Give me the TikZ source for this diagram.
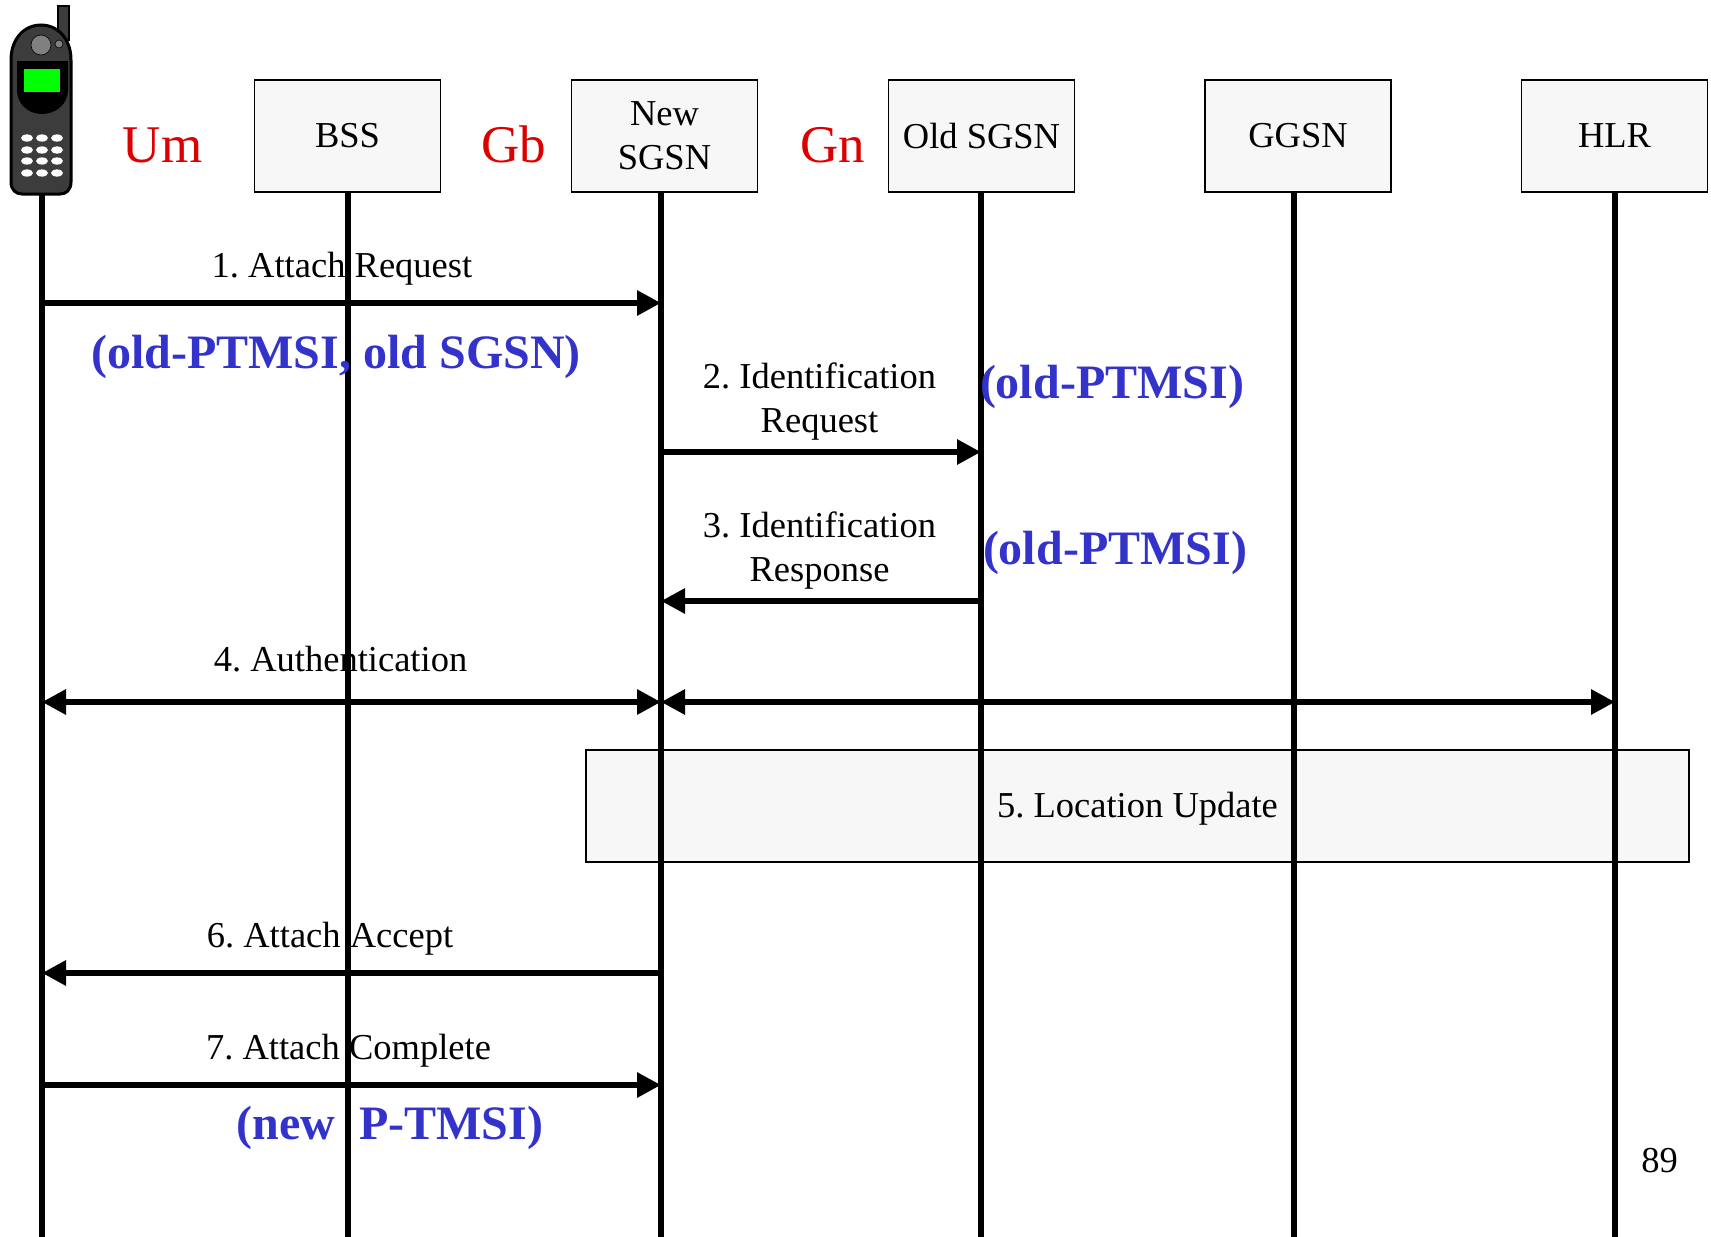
\documentclass[tikz,border=0pt]{standalone}
\usepackage{fontspec}
\setmainfont{Liberation Serif}
\frenchspacing
\definecolor{fg_box_color}{HTML}{F7F7F7}
\definecolor{tx_um_color}{HTML}{DD0000}
\definecolor{tx_id_color}{HTML}{3333CC}
\definecolor{ph_body_color}{HTML}{3C3C3C}
\definecolor{ph_knob_color}{HTML}{808080}
\usetikzlibrary{arrows.meta}
\tikzset{
  entity/.style={draw=black, line width=1.8pt, fill=fg_box_color, minimum width=186pt, minimum height=112pt, align=center, inner sep=0pt, font=\fontsize{36.5}{44}\selectfont},
  lifeline/.style={line width=6pt},
  msg/.style={line width=6pt, -{Triangle[length=24pt,width=24pt]}},
  msgboth/.style={line width=6pt, {Triangle[length=24pt,width=24pt]}-{Triangle[length=24pt,width=24pt]}},
  msglabel/.style={align=center, inner sep=0pt, font=\fontsize{36.5}{44}\selectfont},
  iface/.style={inner sep=0pt, text=tx_um_color, font=\fontsize{53}{60}\selectfont},
  param/.style={inner sep=0pt, text=tx_id_color, font=\fontsize{48}{54}\selectfont\bfseries},
}
\begin{document}
\begin{tikzpicture}[x=1pt, y=-1pt]
  \useasboundingbox (0,0) rectangle (1711,1237);
  % entities
  \node[entity] (bss) at (347.5,136) {BSS};
  \node[entity] (newsgsn) at (664.5,136) {New\\SGSN};
  \node[entity] (oldsgsn) at (981.5,136) {Old SGSN};
  \node[entity] (ggsn) at (1298,136) {GGSN};
  \node[entity] (hlr) at (1614.5,136) {HLR};
  \node[iface] (um) at (162.5,145) {Um};
  \node[iface] (gb) at (514,144) {Gb};
  \node[iface] (gn) at (833,145) {Gn};
  \node[entity, minimum width=1103pt, minimum height=112pt] (update) at (1137.5,806) {};
  % ends of the lifelines
  \coordinate (msTop) at (42,190);
  \coordinate (bssTop) at (348,192);
  \coordinate (newTop) at (661,192);
  \coordinate (oldTop) at (981,192);
  \coordinate (ggsnTop) at (1294,192);
  \coordinate (hlrTop) at (1615,192);
  % messages
  \draw[msg] (msTop |- 0,303) coordinate (m1a) -- (newTop |- 0,303) coordinate (m1b);
  \draw[msg] (newTop |- 0,452) coordinate (m2a) -- (oldTop |- 0,452) coordinate (m2b);
  \draw[msg] (oldTop |- 0,601) coordinate (m3a) -- (newTop |- 0,601) coordinate (m3b);
  \draw[msgboth] (msTop |- 0,702) coordinate (m4a) -- (newTop |- 0,702) coordinate (m4b);
  \draw[msgboth] (m4b) -- (hlrTop |- 0,702) coordinate (m4c);
  \draw[msg] (newTop |- 0,973) coordinate (m6a) -- (msTop |- 0,973) coordinate (m6b);
  \draw[msg] (msTop |- 0,1085) coordinate (m7a) -- (newTop |- 0,1085) coordinate (m7b);
  % lifelines
  \foreach \l in {ms,bss,new,old,ggsn,hlr}
    \draw[lifeline] (\l Top) -- (\l Top |- 0,1237);
  % telephone
  \draw[fill=ph_body_color, line width=1.5pt] (58,6) rectangle (69,40);
  \draw[fill=ph_body_color, line width=3pt] (11,60) .. controls (11,38) and (25,25) .. (41,25) .. controls (57,25) and (71,38) .. (71,60) -- (71,182) .. controls (71,190) and (66,194) .. (60,194) -- (22,194) .. controls (16,194) and (11,190) .. (11,182) -- cycle;
  \fill[black] (17,61) -- (68,61) -- (68,90) .. controls (68,104) and (56,114) .. (42,114) .. controls (28,114) and (17,104) .. (17,90) -- cycle;
  \fill[green] (24,69) rectangle (60,92);
  \draw[fill=ph_knob_color, line width=0.6pt] (41,45) circle (10pt);
  \draw[fill=ph_knob_color, line width=0.6pt] (59,44) circle (4pt);
  \foreach \y in {138,150,161,173}
    \foreach \x in {27,42,57}
      \fill[white] (\x,\y) ellipse (6pt and 3.6pt);
  % labels
  \node[msglabel] (l1) at (342,269) {1. Attach Request};
  \node[param] (p1) at (336,357) {(old-PTMSI, old SGSN)};
  \node[msglabel] (l2) at (819.5,402) {2. Identification\\Request};
  \node[param] (p2) at (1112,387) {(old-PTMSI)};
  \node[msglabel] (l3) at (819.5,551) {3. Identification\\Response};
  \node[param] (p3) at (1115,553) {(old-PTMSI)};
  \node[msglabel] (l4) at (340.5,659) {4. Authentication};
  \node[msglabel] (l5) at (1137.5,809) {5. Location Update};
  \node[msglabel] (l6) at (330,939) {6. Attach Accept};
  \node[msglabel] (l7) at (348.5,1051) {7. Attach Complete};
  \node[param] (p7) at (390,1128) {(new \ P-TMSI)};
  \node[msglabel] (page) at (1659.5,1161) {89};
\end{tikzpicture}
\end{document}
